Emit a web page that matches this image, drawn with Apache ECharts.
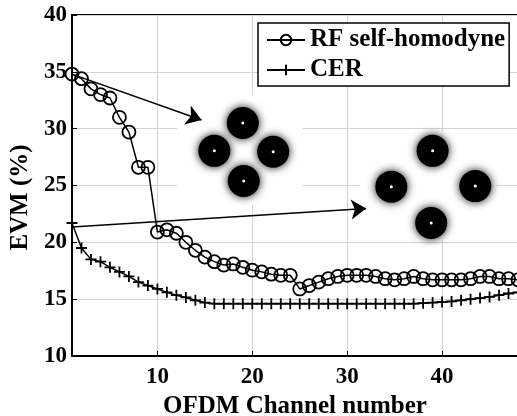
<!DOCTYPE html>
<html>
<head>
<meta charset="utf-8">
<script src="https://cdn.jsdelivr.net/npm/echarts@6/dist/echarts.min.js"></script>
<style>html,body{margin:0;padding:0;background:#fff}#c{width:517px;height:416px}</style>
</head>
<body>
<div id="c"></div>
<script>
// ---- data ----
const channels = [];
for (let i = 1; i <= 48; i++) channels.push(i);
const rfSelfHomodyne = [34.8, 34.4, 33.5, 33.0, 32.7, 31.0, 29.7, 26.6, 26.6, 20.9,
  21.1, 20.8, 20.0, 19.3, 18.7, 18.3, 18.0, 18.1, 17.8, 17.55,
  17.4, 17.2, 17.1, 17.1, 15.9, 16.2, 16.5, 16.8, 17.0, 17.1,
  17.1, 17.1, 17.0, 16.8, 16.7, 16.8, 17.0, 16.8, 16.7, 16.7,
  16.7, 16.7, 16.8, 17.0, 17.0, 16.8, 16.8, 16.7];
const cer = [21.7, 19.5, 18.5, 18.3, 17.8, 17.4, 17.0, 16.5, 16.2, 15.9,
  15.6, 15.35, 15.15, 14.9, 14.7, 14.6, 14.6, 14.6, 14.6, 14.6,
  14.6, 14.6, 14.6, 14.6, 14.6, 14.6, 14.6, 14.6, 14.6, 14.6,
  14.6, 14.6, 14.6, 14.6, 14.6, 14.6, 14.6, 14.65, 14.7, 14.75,
  14.8, 14.9, 15.0, 15.1, 15.2, 15.35, 15.5, 15.6];
const xTickValues = [10, 20, 30, 40];
const seriesNames = ['RF self-homodyne', 'CER'];
// constellation cluster centres (annotation insets), data coordinates
const constellationLeft = [[19.0, 30.5], [16.0, 28.05], [22.2, 27.97], [19.1, 25.4]];
const constellationRight = [[39.0, 28.05], [34.65, 24.9], [43.5, 24.95], [38.85, 21.7]];
// inset background boxes [x1, y1, x2, y2]
const insetBoxes = [[12.05, 32.96, 25.3, 23.27], [31.3, 29.8, 45.7, 20.2]];
// arrows [x1, y1, x2, y2]
const arrows = [[1, 34.8, 14.65, 30.76], [1, 21.35, 32.0, 22.98]];

const FONT = '"Liberation Serif", "Times New Roman", serif';
const pair = (a, b) => a.map((v, i) => [v, b[i]]);

const chart = echarts.init(document.getElementById('c'), null, {renderer: 'canvas'});
const option = {
  animation: false,
  backgroundColor: '#fff',
  grid: {left: 72, right: -1, top: 15, bottom: 60, show: true, borderColor: '#000', borderWidth: 2,
    outerBoundsMode: 'none', containLabel: false},
  xAxis: {
    type: 'value', min: 1, max: 48,
    axisLine: {lineStyle: {color: '#000', width: 2}},
    axisTick: {inside: true, length: 5, customValues: xTickValues, lineStyle: {color: '#000'}},
    axisLabel: {customValues: xTickValues, fontFamily: FONT, fontWeight: 'bold', fontSize: 23, color: '#000', margin: 10},
    splitLine: {show: true, lineStyle: {color: '#d2d2d2', width: 1}},
    name: 'OFDM Channel number', nameLocation: 'middle', nameGap: 35,
    nameTextStyle: {fontFamily: FONT, fontWeight: 'bold', fontSize: 25, color: '#000'}
  },
  yAxis: {
    type: 'value', min: 10, max: 40, interval: 5,
    axisLine: {show: true, lineStyle: {color: '#000', width: 2}},
    axisTick: {show: true, inside: true, length: 5, lineStyle: {color: '#000'}},
    axisLabel: {fontFamily: FONT, fontWeight: 'bold', fontSize: 23, color: '#000', margin: 5},
    splitLine: {show: true, lineStyle: {color: '#d2d2d2', width: 1}},
    name: 'EVM (%)', nameLocation: 'middle', nameGap: 38, nameRotate: 90,
    nameTextStyle: {fontFamily: FONT, fontWeight: 'bold', fontSize: 25, color: '#000', padding: [0, 24, 0, 0]}
  },
  legend: {
    data: seriesNames,
    orient: 'vertical', left: 258, top: 23,
    itemWidth: 38, itemHeight: 13, itemGap: 4,
    padding: [4, 4, 3, 8],
    backgroundColor: '#fff', borderColor: '#000', borderWidth: 1.5,
    textStyle: {fontFamily: FONT, fontWeight: 'bold', fontSize: 25, color: '#000', lineHeight: 26},
    selectedMode: false
  },
  series: [
    {
      type: 'scatter', silent: true, z: 1,
      data: constellationLeft.concat(constellationRight),
      symbol: 'circle', symbolSize: 32,
      itemStyle: {color: '#000', opacity: 1, shadowBlur: 9, shadowColor: 'rgba(0,0,0,0.95)'},
      markArea: {
        silent: true,
        itemStyle: {color: '#fff', opacity: 1},
        label: {show: false},
        data: insetBoxes.map(b => [{xAxis: b[0], yAxis: b[1]}, {xAxis: b[2], yAxis: b[3]}])
      },
      markLine: {
        silent: true, symbol: ['none', 'arrow'], symbolSize: 15,
        label: {show: false},
        lineStyle: {color: '#000', width: 1.5, type: 'solid'},
        data: arrows.map(a => [{coord: [a[0], a[1]]}, {coord: [a[2], a[3]]}])
      }
    },
    {
      type: 'scatter', silent: true, z: 2,
      data: constellationLeft.concat(constellationRight),
      symbol: 'circle', symbolSize: 3,
      itemStyle: {color: '#fff', opacity: 1}
    },
    {
      name: seriesNames[0], type: 'line', z: 3,
      data: pair(channels, rfSelfHomodyne),
      symbol: 'circle', symbolSize: 13, showAllSymbol: true,
      lineStyle: {color: '#000', width: 1.5},
      itemStyle: {color: 'rgba(0,0,0,0)', borderColor: '#000', borderWidth: 1.8}
    },
    {
      name: seriesNames[1], type: 'line', z: 3,
      data: pair(channels, cer),
      symbol: 'path://M5,0L5,10M0,5L10,5', symbolSize: 11, showAllSymbol: true,
      lineStyle: {color: '#000', width: 1.5},
      itemStyle: {color: 'rgba(0,0,0,0)', borderColor: '#000', borderWidth: 1.8}
    }
  ]
};
chart.setOption(option);
</script>
</body>
</html>
